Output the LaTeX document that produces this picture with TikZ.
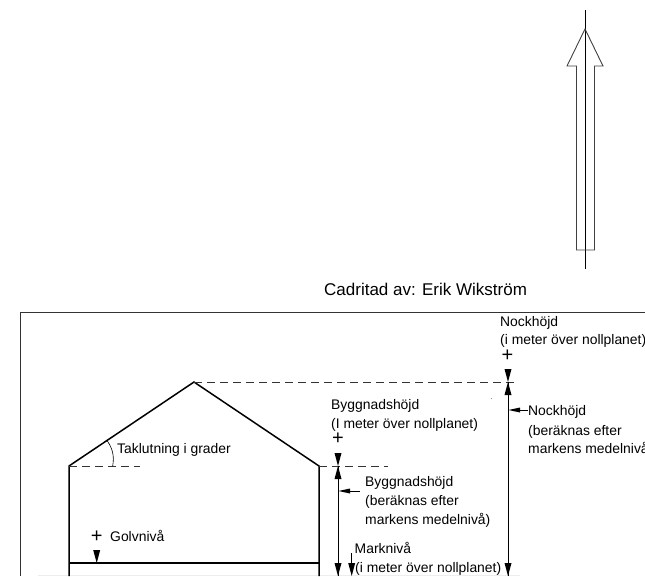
\documentclass[tikz,border=0pt]{standalone}
\usepackage{fontspec}
\setmainfont{Liberation Sans}
\tikzset{
 x=1pt,y=-1pt,
 lbl/.style={inner sep=0pt,anchor=base west,font=\fontsize{13.9}{16}\selectfont},
 plus/.style={inner sep=0pt,anchor=center,font=\fontsize{20}{20}\selectfont},
 wall/.style={line width=1.5pt,black},
 thin line/.style={line width=0.9pt,black},
 dim/.style={line width=1pt,black},
 dashline/.style={line width=0.7pt,black!80,dash pattern=on 8pt off 5pt},
}
\newcommand{\dnTip}[2]{\fill (#1-3.5,#2-13) -- (#1+3.5,#2-13) -- (#1,#2) -- cycle;}
\newcommand{\upTip}[2]{\fill (#1-3.5,#2+13) -- (#1+3.5,#2+13) -- (#1,#2) -- cycle;}
\begin{document}
\begin{tikzpicture}
\useasboundingbox (0,0) rectangle (645,576);
\clip (0,0) rectangle (645,576);
% north arrow
\coordinate (tip) at (585,29);
\coordinate (nt) at (585,10);
\coordinate (nb) at (585,269);
\draw[thin line] (nt) -- (nb);
\draw[line width=0.9pt,black!75] (tip) -- (603,66) -- (594.5,66) -- (594.5,250) -- (576.5,250) -- (576.5,66) -- (567,66) -- cycle;
\node[lbl,font=\fontsize{17}{19}\selectfont] (cad) at (324,295) {Cadritad av: Erik Wikström};
% frame
\draw[line width=0.8pt,black!80] (645,312) -- (20.5,312) -- (20.5,576);
% faint ground line
\draw[line width=0.6pt,black!7] (38,575.6) -- (520,575.6);
% house
\coordinate (a) at (69,466);
\coordinate (r) at (194,382);
\coordinate (b) at (319,466);
\draw[wall] (69,576) -- (a) -- (r) -- (b) -- (319,576);
\draw[wall] (69,563) -- (319,563);
% dashes
\draw[dashline] (r) -- (516,382);
\draw[dashline] (a) -- (140,466);
\draw[dashline] (b) -- (388,466);
% slope angle
\draw[line width=0.6pt] (107,440.5) to[bend left=22] (112.7,466);
\node[lbl] (tak) at (117,453) {Taklutning i grader};
% golvniva
\node[plus] (p1) at (96.7,536.7) {+};
\node[lbl] (gol) at (110,541.7) {Golvnivå};
\dnTip{96.7}{563}
% byggnad
\node[lbl] (byg) at (331,409) {Byggnadshöjd};
\node[lbl] (byg2) at (331,428) {(I meter över nollplanet)};
\node[plus] (p2) at (338,438.7) {+};
\dnTip{338}{466}
\upTip{338}{466}
\draw[dim] (338,466) -- (338,576);
\dnTip{338}{576}
\fill (338.5,491) -- (350,488.5) -- (350,493.5) -- cycle;
\draw[dim] (349,491) -- (360,491);
\node[lbl] (bb1) at (365,486) {Byggnadshöjd};
\node[lbl] (bb2) at (365,505) {(beräknas efter};
\node[lbl] (bb3) at (365,524) {markens medelnivå)};
% marknivå
\node[lbl] (mark) at (354.5,553) {Marknivå};
\node[lbl] (mark2) at (355,572) {(i meter över nollplanet)};
\draw[line width=0.6pt] (351.7,553) -- (351.7,566);
\dnTip{351.7}{576}
% nock
\node[lbl] (nock) at (500,326) {Nockhöjd};
\node[lbl] (nock2) at (500,344) {(i meter över nollplanet)};
\node[plus] (p3) at (507.5,355.7) {+};
\dnTip{508}{382}
\upTip{508}{382}
\draw[dim] (508,382) -- (508,576);
\dnTip{508}{576}
\fill (508.5,410) -- (520,407.5) -- (520,412.5) -- cycle;
\draw[dim] (519,410) -- (528,410);
\node[lbl] (nb1) at (528,415.7) {Nockhöjd};
\node[lbl] (nb2) at (528,435) {(beräknas efter};
\node[lbl] (nb3) at (528,453) {markens medelnivå)};
\fill[black!50] (491.5,398.5) circle (0.5);
\end{tikzpicture}
\end{document}
